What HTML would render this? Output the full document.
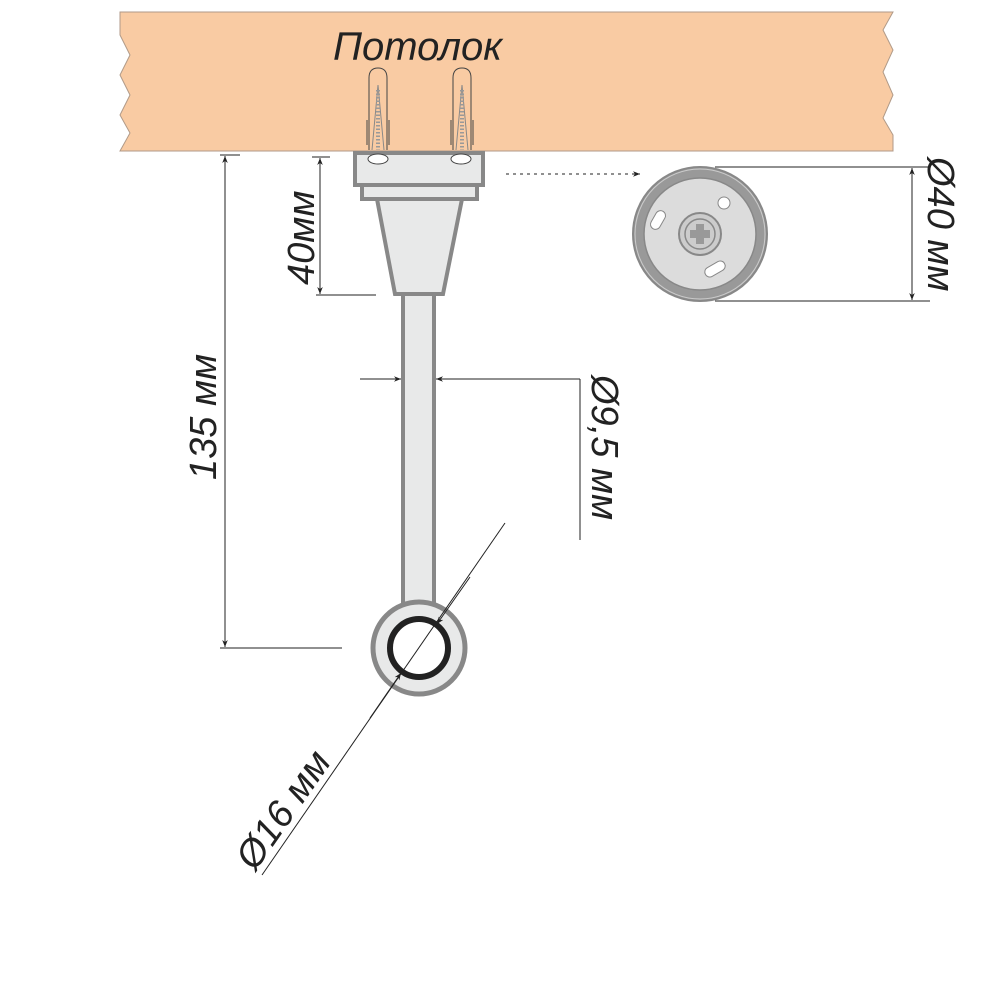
<!DOCTYPE html>
<html><head><meta charset="utf-8"><style>html,body{margin:0;padding:0;background:#fff}svg{display:block}</style></head><body>
<svg width="1000" height="1000" viewBox="0 0 1000 1000" xmlns="http://www.w3.org/2000/svg">
<defs><marker id="a" viewBox="0 0 10 10" refX="10" refY="5" markerWidth="7" markerHeight="7" orient="auto-start-reverse"><path d="M0,1 L10,5 L0,9 L3,5z" fill="#222"/></marker></defs>
<rect width="1000" height="1000" fill="#fff"/>
<path d="M120,12 L893,12 L883,30 L893,50 L883,72 L893,95 L883,118 L893,135 L893,151 L120,151 L130,133 L120,115 L130,95 L120,75 L130,55 L120,35 Z" fill="#f9cba3" stroke="#b09a88" stroke-width="1"/>
<text x="333" y="60" font-family="Liberation Sans, sans-serif" font-style="italic" font-size="40" fill="#222">Потолок</text>
<g fill="none" stroke="#444" stroke-width="1">
<path d="M369,150 L369,78 Q369,68 378,68 Q387,68 387,78 L387,150"/>
<path d="M453,150 L453,78 Q453,68 462,68 Q471,68 471,78 L471,150"/>
<path d="M367,120 L367,145 M389,120 L389,145 M451,120 L451,145 M473,120 L473,145"/>
<path d="M378,85 L372,150 M378,85 L384,150 M462,85 L456,150 M462,85 L468,150" stroke="#888"/>
<path d="M378,90 L378,150 M462,90 L462,150" stroke="#999" stroke-width="4" stroke-dasharray="1.5,2"/>
</g>
<rect x="355" y="153" width="128" height="32" fill="#e8e9e9" stroke="#888" stroke-width="4"/>
<rect x="362" y="185" width="115" height="14" fill="#e8e9e9" stroke="#888" stroke-width="4"/>
<ellipse cx="378" cy="159" rx="10" ry="5" fill="#fff" stroke="#444"/>
<ellipse cx="461" cy="159" rx="10" ry="5" fill="#fff" stroke="#444"/>
<path d="M377,199 L462,199 L443,294 L395,294 Z" fill="#e8e9e9" stroke="#888" stroke-width="4"/>
<rect x="403" y="294" width="31" height="312" fill="#e8e9e9" stroke="#888" stroke-width="4"/>
<circle cx="419" cy="648" r="46" fill="#e8e9e9" stroke="#888" stroke-width="5"/>
<circle cx="419" cy="648" r="29" fill="#fff" stroke="#222" stroke-width="6"/>
<circle cx="700" cy="234" r="67" fill="#999" stroke="#888" stroke-width="2"/>
<circle cx="700" cy="234" r="65" fill="#999" stroke="#ccc" stroke-width="1"/>
<circle cx="700" cy="234" r="56" fill="#dcdcdc" stroke="#888" stroke-width="1.5"/>
<circle cx="700" cy="234" r="21" fill="#ccc" stroke="#888" stroke-width="2"/>
<circle cx="700" cy="234" r="15" fill="#ccc" stroke="#888" stroke-width="1.5"/>
<path d="M696,224h8v6h6v8h-6v6h-8v-6h-6v-8h6z" fill="#999"/>
<circle cx="724" cy="203" r="6" fill="#fff" stroke="#888"/>
<rect x="653" y="210" width="10" height="20" rx="5" transform="rotate(30 658 220)" fill="#fff" stroke="#888"/>
<rect x="710" y="258" width="10" height="22" rx="5" transform="rotate(60 715 269)" fill="#fff" stroke="#888"/>
<g stroke="#222" stroke-width="1" fill="none">
<line x1="506" y1="174" x2="640" y2="174" stroke-dasharray="3,4" marker-end="url(#a)"/>
<line x1="715" y1="167" x2="930" y2="167"/>
<line x1="715" y1="301" x2="930" y2="301"/>
<line x1="912" y1="168" x2="912" y2="300" marker-start="url(#a)" marker-end="url(#a)"/>
<line x1="220" y1="155" x2="240" y2="155"/>
<line x1="225" y1="156" x2="225" y2="647" marker-start="url(#a)" marker-end="url(#a)"/>
<line x1="220" y1="648" x2="342" y2="648"/>
<line x1="312" y1="157" x2="330" y2="157"/>
<line x1="320" y1="158" x2="320" y2="294" marker-start="url(#a)" marker-end="url(#a)"/>
<line x1="316" y1="295" x2="376" y2="295"/>
<line x1="360" y1="379" x2="401" y2="379" marker-end="url(#a)"/>
<line x1="580" y1="379" x2="436" y2="379" marker-end="url(#a)"/>
<line x1="580" y1="379" x2="580" y2="540"/>
<line x1="505" y1="523" x2="262" y2="875"/>
<line x1="470" y1="577" x2="437" y2="624" marker-end="url(#a)"/>
<line x1="370" y1="718" x2="401" y2="673" marker-end="url(#a)"/>
</g>
<g font-family="Liberation Sans, sans-serif" font-style="italic" font-size="38" fill="#222">
<text transform="translate(216,480) rotate(-90)">135 мм</text>
<text transform="translate(314,285) rotate(-90)">40мм</text>
<text transform="translate(592,375) rotate(90)">Ø9,5 мм</text>
<text transform="translate(928,157) rotate(90)">Ø40 мм</text>
<text transform="translate(255,872) rotate(-55)">Ø16 мм</text>
</g>
</svg>
</body></html>
